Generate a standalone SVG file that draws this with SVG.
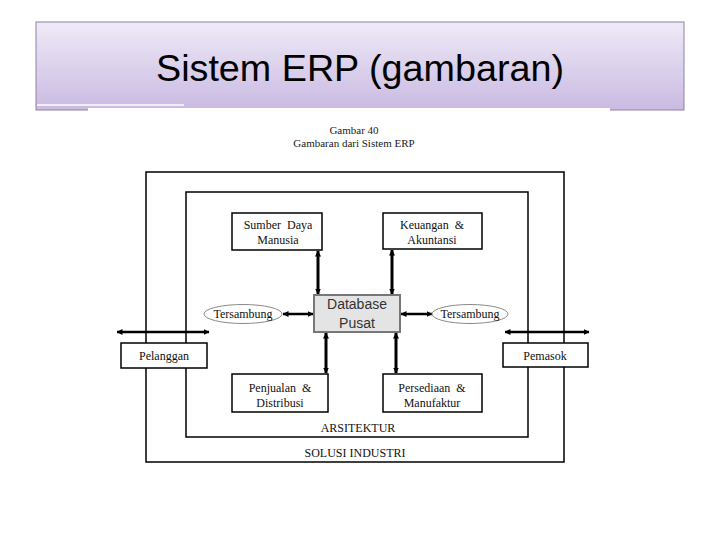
<svg xmlns="http://www.w3.org/2000/svg" width="720" height="540" viewBox="0 0 720 540">
<defs>
<linearGradient id="bannerGrad" x1="0" y1="0" x2="0" y2="1">
<stop offset="0" stop-color="#efeaf7"/>
<stop offset="1" stop-color="#c9bae2"/>
</linearGradient>
<marker id="ah" viewBox="0 0 6 6" refX="5.5" refY="3" markerWidth="6" markerHeight="6" markerUnits="userSpaceOnUse" orient="auto-start-reverse">
<path d="M0,0 L6,3 L0,6 z" fill="#000"/>
</marker>
<style>
.lbl{font-family:"Liberation Serif","Times New Roman",serif;font-size:12px;fill:#111;text-anchor:middle;white-space:pre}
.olbl{font-family:"Liberation Serif","Times New Roman",serif;font-size:12px;fill:#111;text-anchor:middle}
.cap{font-family:"Liberation Serif","Times New Roman",serif;font-size:11px;fill:#1a1a1a;text-anchor:middle}
.box{fill:#fff;stroke:#000;stroke-width:1.5}
.frame{fill:none;stroke:#000;stroke-width:1.5}
.oval{fill:#fff;stroke:#8a8a8a;stroke-width:1}
.conn{stroke:#000;stroke-width:3;fill:none;marker-start:url(#ah);marker-end:url(#ah)}
.connh{stroke:#000;stroke-width:2.5;fill:none;marker-start:url(#ah);marker-end:url(#ah)}
</style>
</defs>
<rect width="720" height="540" fill="#fff"/>
<g id="banner">
<rect x="36" y="22" width="648" height="88" fill="url(#bannerGrad)" stroke="#8f82a6" stroke-width="1"/>
<line x1="37" y1="105" x2="184" y2="105" stroke="#fff" stroke-width="1.5"/>
<rect x="88" y="108" width="522" height="4" fill="#fff"/>
<text x="360" y="81" text-anchor="middle" font-family="'Liberation Sans', Arial, sans-serif" font-size="36" fill="#000" textLength="408" lengthAdjust="spacingAndGlyphs">Sistem ERP (gambaran)</text>
</g>
<g id="caption">
<text class="cap" x="354" y="134">Gambar 40</text>
<text class="cap" x="354" y="147">Gambaran dari Sistem ERP</text>
</g>
<g id="frames">
<rect class="frame" x="146" y="172" width="418" height="290"/>
<rect class="frame" x="186" y="192" width="342" height="245"/>
<text class="lbl" x="358" y="432">ARSITEKTUR</text>
<text class="lbl" x="355" y="457">SOLUSI INDUSTRI</text>
</g>
<g id="connectors">
<line class="conn" x1="318" y1="251" x2="318" y2="294"/>
<line class="conn" x1="392" y1="250" x2="392" y2="294"/>
<line class="conn" x1="326" y1="333" x2="326" y2="373"/>
<line class="conn" x1="396" y1="333" x2="396" y2="373"/>
<line class="connh" x1="283" y1="314" x2="313" y2="314"/>
<line class="connh" x1="401" y1="314" x2="432" y2="314"/>
<line class="connh" x1="117" y1="332" x2="209" y2="332"/>
<line class="connh" x1="505" y1="332" x2="589" y2="332"/>
</g>
<g id="sdm">
<rect class="box" x="232" y="213" width="90" height="37"/>
<text class="lbl" x="278" y="229">Sumber  Daya</text>
<text class="lbl" x="278" y="244">Manusia</text>
</g>
<g id="keuangan">
<rect class="box" x="383" y="213" width="99" height="36"/>
<text class="lbl" x="432" y="229">Keuangan  &amp;</text>
<text class="lbl" x="432" y="244">Akuntansi</text>
</g>
<g id="database">
<rect x="314" y="295" width="86" height="37" fill="#e4e4e4" stroke="#777" stroke-width="2"/>
<text x="357" y="309" text-anchor="middle" font-family="'Liberation Sans', Arial, sans-serif" font-size="14" fill="#333">Database</text>
<text x="357" y="328" text-anchor="middle" font-family="'Liberation Sans', Arial, sans-serif" font-size="14" fill="#333">Pusat</text>
</g>
<g id="tersambung-kiri">
<ellipse class="oval" cx="243" cy="314" rx="39" ry="9.5"/>
<text class="olbl" x="243" y="318">Tersambung</text>
</g>
<g id="tersambung-kanan">
<ellipse class="oval" cx="470" cy="314" rx="38" ry="9.5"/>
<text class="olbl" x="470" y="318">Tersambung</text>
</g>
<g id="pelanggan">
<rect class="box" x="121" y="343" width="86" height="25"/>
<text class="lbl" x="164" y="360">Pelanggan</text>
</g>
<g id="pemasok">
<rect class="box" x="503" y="343" width="85" height="24"/>
<text class="lbl" x="545" y="359.5">Pemasok</text>
</g>
<g id="penjualan">
<rect class="box" x="232" y="374" width="96" height="38"/>
<text class="lbl" x="280" y="392">Penjualan  &amp;</text>
<text class="lbl" x="280" y="407">Distribusi</text>
</g>
<g id="persediaan">
<rect class="box" x="383" y="374" width="99" height="38"/>
<text class="lbl" x="432" y="392">Persediaan  &amp;</text>
<text class="lbl" x="432" y="407">Manufaktur</text>
</g>
</svg>
